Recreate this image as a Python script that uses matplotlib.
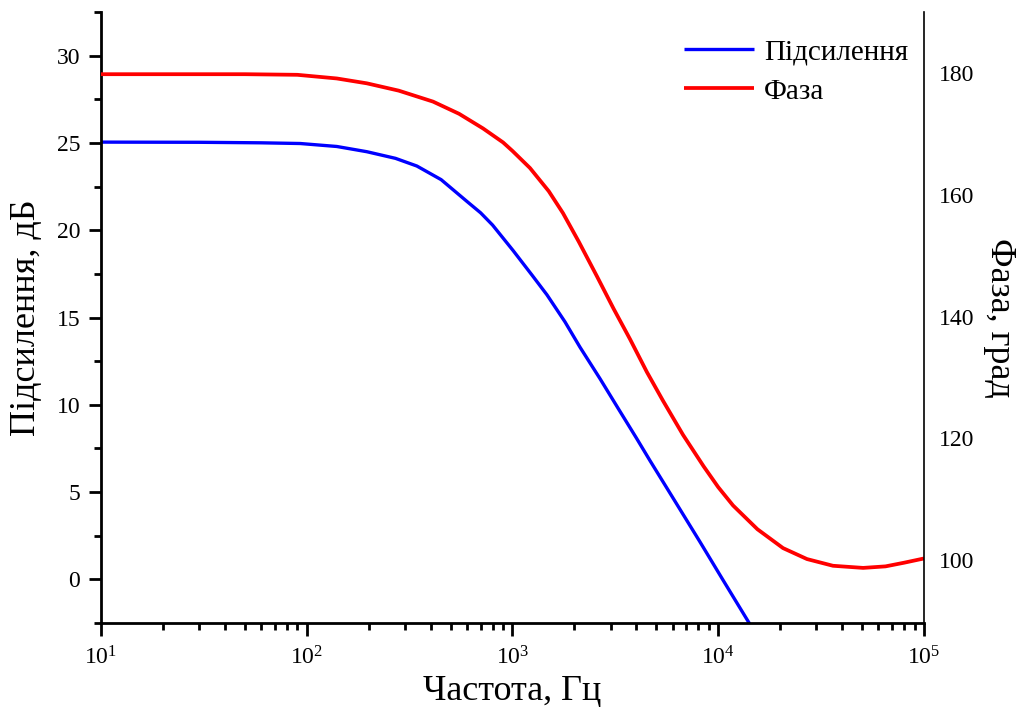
import matplotlib
matplotlib.use("Agg")
import matplotlib.pyplot as plt
from matplotlib.ticker import LogLocator, MultipleLocator, NullFormatter, LogFormatterSciNotation

plt.rcParams['font.family'] = ['Liberation Serif', 'DejaVu Serif']
plt.rcParams['mathtext.fontset'] = 'custom'
plt.rcParams['mathtext.rm'] = 'Liberation Serif'
plt.rcParams['mathtext.it'] = 'Liberation Serif:italic'

# Gain (dB)
gain_freq = [10, 30, 60, 93, 140, 196, 270, 343, 450, 601, 700, 800, 1005, 1250, 1471, 1800,
             2129, 2662, 3300, 4000, 4660, 6000, 8150, 10500, 13800, 15000]
gain_db = [25.05, 25.04, 25.01, 24.97, 24.8, 24.5, 24.12, 23.68, 22.9, 21.65, 21.0, 20.3, 18.85, 17.4, 16.3, 14.75,
           13.3, 11.5, 9.7, 8.1, 6.8, 4.7, 2.15, 0.0, -2.3, -3.0]

# Phase (degrees)
phase_freq = [10, 50, 90, 140, 196, 280, 411, 550, 719, 900, 1000, 1216, 1500, 1759, 2100, 2575,
              3100, 3726, 4500, 5387, 6740, 8500, 10000, 11800, 15500, 20650, 27000, 36100,
              50600, 65000, 80000, 100000]
phase_deg = [179.8, 179.8, 179.7, 179.1, 178.3, 177.1, 175.3, 173.3, 170.9, 168.6, 167.2, 164.4,
             160.6, 157.0, 152.3, 146.6, 141.3, 136.3, 130.9, 126.2, 120.6, 115.4, 112.0, 109.0,
             105.1, 102.0, 100.2, 99.1, 98.75, 99.0, 99.6, 100.3]

gain_label = 'Підсилення'
phase_label = 'Фаза'

fig = plt.figure(figsize=(10.21, 7.10), dpi=100)
ax = fig.add_axes([0.0989, 0.1225, 0.8061, 0.8605])
ax2 = ax.twinx()

l1, = ax.plot(gain_freq, gain_db, color='#0000ff', lw=2.4, solid_capstyle='butt')
l2, = ax2.plot(phase_freq, phase_deg, color='#ff0000', lw=2.7, solid_capstyle='butt')

ax.set_xscale('log')
ax.set_xlim(10, 1e5)
ax.set_ylim(-2.5, 32.5)
ax2.set_ylim(89.7, 190)

ax.xaxis.set_major_locator(LogLocator(base=10, numticks=10))
ax.xaxis.set_minor_locator(LogLocator(base=10, subs=range(2, 10), numticks=20))
ax.xaxis.set_major_formatter(LogFormatterSciNotation())
ax.xaxis.set_minor_formatter(NullFormatter())
ax.yaxis.set_major_locator(MultipleLocator(5))
ax.yaxis.set_minor_locator(MultipleLocator(2.5))
ax2.yaxis.set_major_locator(MultipleLocator(20))

for a in (ax, ax2):
    a.spines['top'].set_visible(False)
ax.spines['left'].set_linewidth(2)
ax.spines['bottom'].set_linewidth(2)
ax.spines['right'].set_visible(False)
ax2.spines['left'].set_visible(False)
ax2.spines['bottom'].set_visible(False)
ax2.spines['right'].set_linewidth(1.2)

ax.tick_params(axis='both', which='major', direction='out', length=9, width=2, labelsize=17, pad=6)
ax.tick_params(axis='both', which='minor', direction='out', length=5, width=2)
ax.tick_params(axis='x', which='major', pad=8)
ax2.tick_params(axis='y', which='major', length=0, labelsize=17, pad=11)

ax.set_xlabel('Частота, Гц', fontsize=26, labelpad=4)
ax.set_ylabel('Підсилення, дБ', fontsize=26, labelpad=10)
ax2.set_ylabel('Фаза, град', fontsize=26, rotation=270, labelpad=30)

leg = ax2.legend([l1, l2], [gain_label, phase_label], loc='upper right',
                 bbox_to_anchor=(1.002, 0.985), frameon=False, fontsize=21,
                 handlelength=2.4, handletextpad=0.35, labelspacing=0.45, borderaxespad=0.2)

fig.savefig('out.png', dpi=100)
